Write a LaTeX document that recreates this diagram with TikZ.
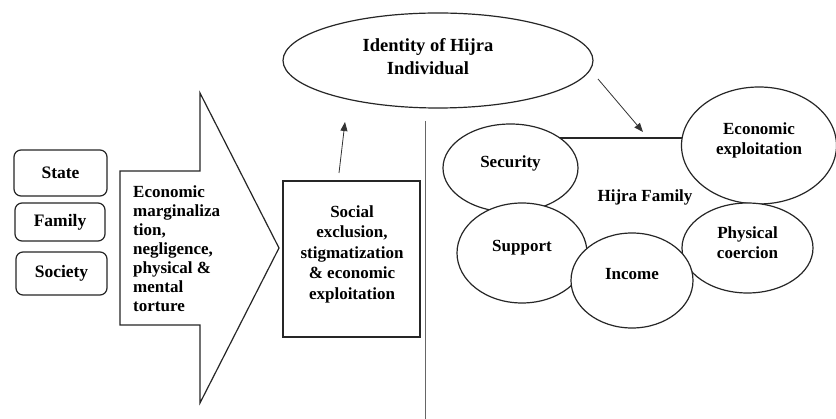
\documentclass[tikz,border=0pt]{standalone}
\usepackage{fontspec}
\setmainfont{Liberation Serif}
\usetikzlibrary{shapes.geometric,arrows.meta,calc}
\begin{document}
\begin{tikzpicture}[x=1pt,y=-1pt,
  thick line/.style={line width=1.2pt, draw=black!85},
  rbox/.style={thick line, rounded corners=7pt, inner sep=0pt, font=\fontsize{17.5}{19}\selectfont\bfseries},
  oval/.style={ellipse, thick line, fill=white, inner sep=0pt},
  txt/.style={font=\fontsize{17}{20}\selectfont\bfseries, align=center, inner sep=0pt},
  arr/.style={line width=0.8pt, draw=black!80, -{Triangle[length=9pt,width=7pt]}}]
\useasboundingbox (0,0) rectangle (836,419);
\fill[white] (0,0) rectangle (836,419);

% left boxes
\node[rbox, minimum width=93pt, minimum height=46pt] (state) at (60.5,173) {State};
\node[rbox, minimum width=90pt, minimum height=38pt] (family) at (60,222) {Family};
\node[rbox, minimum width=91pt, minimum height=43pt] (society) at (61.5,273.5) {Society};

% big arrow
\draw[thick line, line join=miter] (120,171) -- (200,171) -- (200,93) -- (279,248) -- (200,403) -- (200,325) -- (120,325) -- cycle;
\node[txt, align=left, anchor=west, font=\fontsize{17}{19}\selectfont\bfseries] (cause) at (133,249)
  {Economic\\marginaliza\\tion,\\negligence,\\physical \&\\mental\\torture};

% social exclusion box
\node[thick line, draw, minimum width=137pt, minimum height=156pt, inner sep=0pt] (soc) at (351.5,259) {};
\node[txt, font=\fontsize{17}{20.5}\selectfont\bfseries] (soctxt) at (352,254) {Social\\exclusion,\\stigmatization\\\& economic\\exploitation};

% identity ellipse
\node[oval, minimum width=310pt, minimum height=95pt] (ident) at (438,60.5) {};
\node[txt, font=\fontsize{18.5}{23}\selectfont\bfseries] (identtxt) at (428,56.5) {Identity of Hijra\\Individual};

% divider
\coordinate (vtop) at (425.5,121);
\coordinate (vbot) at (425.5,419);
\draw[line width=1pt, draw=black!60] (vtop) -- (vbot);

% arrows
\coordinate (a1s) at (339,173);
\coordinate (a1e) at (345,122);
\draw[arr] (a1s) -- (a1e);
\coordinate (a2s) at (598,79);
\coordinate (a2e) at (643,132);
\draw[arr] (a2s) -- (a2e);

% horizontal link
\coordinate (hl) at (560,138);
\coordinate (hr) at (686,138);
\draw[thick line] (hl) -- (hr);

% family ellipses
\node[oval, minimum width=135pt, minimum height=88pt] (sec) at (510.5,168) {};
\node[txt] at ([yshift=5pt]sec.center) {Security};
\node[oval, minimum width=155pt, minimum height=117pt] (econ) at (759,145.5) {};
\node[txt] at ([yshift=5pt]econ.center) {Economic\\exploitation};
\node[oval, minimum width=130pt, minimum height=100pt] (sup) at (522,253) {};
\node[txt] at ([yshift=5pt]sup.center) {Support};
\node[oval, minimum width=131pt, minimum height=90pt] (phys) at (747.5,248) {};
\node[txt] at ([yshift=5pt]phys.center) {Physical\\coercion};
\node[oval, minimum width=122pt, minimum height=95pt] (inc) at (632,280.5) {};
\node[txt] at ([yshift=6pt]inc.center) {Income};

\node[txt] (hf) at (645,197) {Hijra Family};
\end{tikzpicture}
\end{document}
